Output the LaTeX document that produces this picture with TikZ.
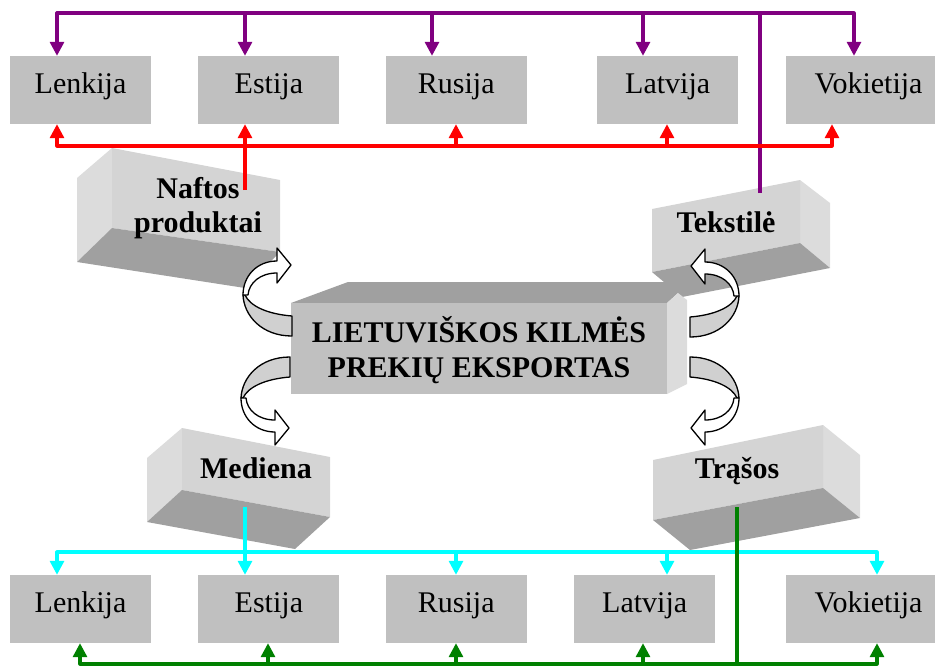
\documentclass[tikz,border=0pt]{standalone}
\usepackage{fontspec}
\setmainfont{Liberation Serif}
\usetikzlibrary{positioning,arrows.meta}
\definecolor{boxgray}{HTML}{C0C0C0}
\definecolor{facelight}{HTML}{D4D4D4}
\definecolor{faceside}{HTML}{DCDCDC}
\definecolor{facedark}{HTML}{A0A0A0}
\definecolor{ribbon}{HTML}{D0D0D0}
\definecolor{buspurple}{HTML}{800080}
\definecolor{busred}{HTML}{FF0000}
\definecolor{buscyan}{HTML}{00FFFF}
\definecolor{busgreen}{HTML}{008000}
\tikzset{
  country/.style={fill=boxgray,minimum width=141pt,minimum height=68pt,inner sep=0pt,
    font=\fontsize{30}{34}\selectfont,text height=20pt,text depth=14pt},
  prodlabel/.style={font=\fontsize{30}{34}\selectfont\bfseries,anchor=base,inner sep=0pt},
  bus/.style={line width=3.2pt,line join=round},
  >={Triangle[width=14pt,length=14pt]},
  twistarrow/.pic={
    \filldraw[fill=ribbon,line width=1.3pt,line join=round]
      (0,-10) .. controls (-25,-12) and (-42,-20) .. (-47,-31) -- (-49,-31)
      .. controls (-48,-10) and (-30,10) .. (0,10) -- cycle;
    \filldraw[fill=white,line width=1.3pt,line join=round]
      (-49,-31) .. controls (-49,-50) and (-35,-65) .. (-15,-65) -- (-15,-78) -- (-1,-61)
      -- (-15,-43) -- (-15,-53) .. controls (-32,-53) and (-43,-43) .. (-44,-31) -- cycle;
  },
}

\begin{document}
\begin{tikzpicture}[x=1pt,y=-1pt]
  \useasboundingbox (0,0) rectangle (935,665);
  \clip (0,0) rectangle (935,665);
  % countries, top row
  \node[country]                                (tLen) at (80.5,90) {Lenkija};
  \node[country,right=47pt of tLen]             (tEst) {Estija};
  \node[country,right=46pt of tEst]             (tRus) {Rusija};
  \node[country,right=70pt of tRus]             (tLat) {Latvija};
  \node[country,right=47pt of tLat,minimum width=166pt] (tVok) {Vokietija};
  % countries, bottom row
  \node[country]                                (bLen) at (80.5,609) {Lenkija};
  \node[country,right=47pt of bLen]             (bEst) {Estija};
  \node[country,right=46pt of bEst]             (bRus) {Rusija};
  \node[country,right=47pt of bRus]             (bLat) {Latvija};
  \node[country,right=70pt of bLat,minimum width=166pt] (bVok) {Vokietija};

  % product blocks
  \fill[faceside]  (112,148) -- (77,178) -- (77,262) -- (112,228) -- cycle;
  \fill[facelight] (112,148) -- (280,180) -- (280,252) -- (112,228) -- cycle;
  \fill[facedark]  (112,228) -- (280,252) -- (245,288) -- (77,262) -- cycle;
  \fill[faceside]  (800,180) -- (830,203) -- (830,268) -- (800,243) -- cycle;
  \fill[facelight] (652,209) -- (800,180) -- (800,243) -- (652,272) -- cycle;
  \fill[facedark]  (652,272) -- (800,243) -- (830,268) -- (682,297) -- cycle;
  \fill[faceside]  (182,428) -- (147,458) -- (147,522) -- (182,490) -- cycle;
  \fill[facelight] (182,428) -- (330,457) -- (330,517) -- (182,490) -- cycle;
  \fill[facedark]  (182,490) -- (330,517) -- (295,549) -- (147,522) -- cycle;
  \fill[faceside]  (823,425) -- (860,455) -- (860,518) -- (823,488) -- cycle;
  \fill[facelight] (653,460) -- (823,425) -- (823,488) -- (653,520) -- cycle;
  \fill[facedark]  (653,520) -- (823,488) -- (860,518) -- (690,550) -- cycle;
  % central block
  \fill[facedark] (291,303) -- (348,282) -- (677,282) -- (678,293) -- (667,303) -- cycle;
  \fill[faceside] (667,303) -- (678,293) -- (687,300) -- (687,384) -- (667,394) -- cycle;
  \fill[boxgray]  (291,303) rectangle (667,394);

  \node[prodlabel] (naftos1) at (198,198) {Naftos};
  \node[prodlabel] (naftos2) at (198,232) {produktai};
  \node[prodlabel] (tekst)   at (726,232) {Tekstilė};
  \node[prodlabel] (mediena) at (256,478) {Mediena};
  \node[prodlabel] (trasos)  at (737,478) {Trąšos};
  \node[prodlabel] (centre1) at (479,342) {LIETUVIŠKOS KILMĖS};
  \node[prodlabel] (centre2) at (479,377) {PREKIŲ EKSPORTAS};

  % ribbon arrows
  \pic                      at (292,326) {twistarrow};
  \pic[yscale=-1]           at (290,367) {twistarrow};
  \pic[xscale=-1]           at (690,327) {twistarrow};
  \pic[xscale=-1,yscale=-1] at (690,367) {twistarrow};

  \coordinate (naftosTop)  at (245,190);
  \coordinate (tekstTop)   at (760,193);
  \coordinate (medienaBot) at (245,507);
  \coordinate (trasosBot)  at (737,507);

  % Tekstile
  \coordinate (pL) at (57,13);  \coordinate (pR) at (854,13);
  \draw[bus,buspurple,<->] (tLen.north -| pL) -- (pL) -- (pR) -- (tVok.north -| pR);
  \foreach \n/\x in {tEst/245,tRus/432,tLat/643}
    \draw[bus,buspurple,->] (\x,13) -- (\x,13 |- \n.north);
  \draw[bus,buspurple] (tekstTop) -- (tekstTop |- pL);
  % Naftos produktai
  \coordinate (rL) at (57,146); \coordinate (rR) at (832,146);
  \draw[bus,busred,<->] (tLen.south -| rL) -- (rL) -- (rR) -- (tVok.south -| rR);
  \foreach \n/\x in {tRus/456,tLat/667}
    \draw[bus,busred,->] (\x,146) -- (\x,146 |- \n.south);
  \draw[bus,busred,->] (naftosTop) -- (naftosTop |- tEst.south);
  % Mediena
  \coordinate (cL) at (57,552); \coordinate (cR) at (877,552);
  \draw[bus,buscyan,<->] (bLen.north -| cL) -- (cL) -- (cR) -- (bVok.north -| cR);
  \foreach \n/\x in {bRus/456,bLat/667}
    \draw[bus,buscyan,->] (\x,552) -- (\x,552 |- \n.north);
  \draw[bus,buscyan,->] (medienaBot) -- (medienaBot |- bEst.north);
  % Trasos
  \coordinate (gL) at (80,664); \coordinate (gR) at (877,664);
  \draw[bus,busgreen,<->] (bLen.south -| gL) -- (gL) -- (gR) -- (bVok.south -| gR);
  \foreach \n/\x in {bEst/268,bRus/456,bLat/643}
    \draw[bus,busgreen,->] (\x,664) -- (\x,664 |- \n.south);
  \draw[bus,busgreen] (trasosBot) -- (trasosBot |- gL);
\end{tikzpicture}
\end{document}
